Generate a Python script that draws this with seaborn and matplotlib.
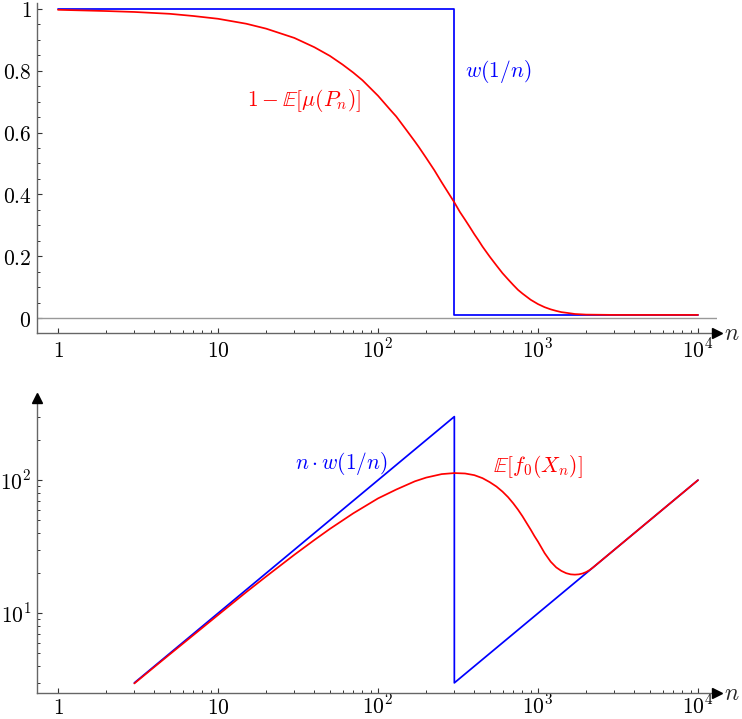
import matplotlib
matplotlib.use("Agg")
import matplotlib.pyplot as plt
import seaborn as sns
import pandas as pd
from matplotlib.ticker import FixedLocator, NullFormatter, FixedFormatter

# ---------------- data ----------------
top_red_n = [1, 2, 3, 5, 7, 10, 15, 20, 30, 40, 50, 60, 70, 80, 100, 120, 130, 150, 170,
             180, 200, 225, 250, 275, 300, 325, 350, 375, 400, 425, 450, 475, 500, 550,
             600, 650, 700, 750, 800, 900, 1000, 1100, 1200, 1300, 1400, 1500, 1700, 2000,
             3000, 10000]
top_red_v = [0.997, 0.993, 0.990, 0.984, 0.977, 0.968, 0.952, 0.936, 0.906, 0.876, 0.848,
             0.820, 0.794, 0.769, 0.719, 0.672, 0.652, 0.609, 0.571, 0.553, 0.518, 0.478,
             0.439, 0.405, 0.374, 0.343, 0.318, 0.294, 0.271, 0.251, 0.231, 0.214, 0.198,
             0.170, 0.145, 0.125, 0.107, 0.091, 0.079, 0.059, 0.045, 0.035, 0.028, 0.023,
             0.019, 0.017, 0.013, 0.011, 0.010, 0.010]

top_blue_n = [1, 300, 300, 10000]
top_blue_v = [1.0, 1.0, 0.01, 0.01]

bot_blue_n = [3, 300, 300, 10000]
bot_blue_v = [3, 300, 3, 100]

bot_red_n = [3, 4, 5, 7, 10, 15, 20, 30, 40, 50, 70, 100, 130, 170, 200, 250, 300, 350,
             400, 450, 500, 550, 600, 650, 700, 750, 800, 850, 900, 950, 1000, 1100, 1200,
             1300, 1400, 1500, 1600, 1700, 1800, 1900, 2000, 2100, 2200, 2400, 3000, 5000,
             10000]
bot_red_v = [2.97, 3.95, 4.92, 6.84, 9.70, 14.4, 18.9, 27.5, 35.5, 43.0, 56.3, 72.9, 85.0,
             98.0, 104.5, 111.0, 113.0, 112.2, 109.0, 103.5, 96.5, 89.5, 82.0, 74.5, 67.0,
             60.0, 53.5, 47.5, 42.5, 38.0, 34.5, 28.3, 24.4, 22.1, 20.8, 20.0, 19.6, 19.5,
             19.6, 19.9, 20.4, 21.1, 22.0, 24.0, 30.0, 50.0, 100.0]

x_ticks = [1, 10, 100, 1000, 10000]
x_tick_labels = ["$1$", "$10$", "$10^2$", "$10^3$", "$10^4$"]
top_y_ticks = [0, 0.2, 0.4, 0.6, 0.8, 1]
top_y_labels = ["$0$", "$0.2$", "$0.4$", "$0.6$", "$0.8$", "$1$"]
bot_y_ticks = [10, 100]
bot_y_labels = ["$10^1$", "$10^2$"]

# ---------------- style ----------------
sns.set_style("ticks")
plt.rcParams["mathtext.fontset"] = "cm"
plt.rcParams["font.family"] = ["DejaVu Serif", "DejaVu Sans"]

BLUE = "#0000ff"
RED = "#ff0000"
AXC = "#666666"
LW = 1.25
FS = 15.5

W, H = 742, 719
fig = plt.figure(figsize=(W / 100, H / 100), dpi=100)

left = 37 / W
width = 680 / W
ax1 = fig.add_axes([left, 1 - 333 / H, width, 330 / H])
ax2 = fig.add_axes([left, 1 - 693 / H, width, 295 / H])

xmin, xmax = 10 ** (-21 / 160), 10 ** (659 / 160)


def style_axis(ax, yarrow, xpad):
    for s in ("top", "right"):
        ax.spines[s].set_visible(False)
    for s in ("left", "bottom"):
        ax.spines[s].set_color(AXC)
        ax.spines[s].set_linewidth(1.0)
    ax.set_xscale("log")
    ax.set_xlim(xmin, xmax)
    ax.xaxis.set_major_locator(FixedLocator(x_ticks))
    ax.xaxis.set_major_formatter(FixedFormatter(x_tick_labels))
    ax.xaxis.set_minor_locator(FixedLocator(
        [m * 10 ** k for k in range(0, 4) for m in range(2, 10)]))
    ax.xaxis.set_minor_formatter(NullFormatter())
    ax.tick_params(axis="both", which="major", direction="in", length=3.5, width=0.8,
                   color="#333333", labelsize=FS, labelcolor="black")
    ax.tick_params(axis="both", which="minor", direction="in", length=2.0, width=0.7,
                   color="#333333")
    ax.tick_params(axis="x", which="major", pad=xpad)
    ax.tick_params(axis="y", which="major", pad=4)
    ax.set_xlabel("")
    ax.set_ylabel("")
    ax.grid(False)
    ax.plot(1, 0, ">", color="black", markersize=7, transform=ax.transAxes,
            clip_on=False, zorder=5)
    if yarrow:
        ax.plot(0, 1, "^", color="black", markersize=7, transform=ax.transAxes,
                clip_on=False, zorder=5)
    ax.text(1.022, 0, "$n$", transform=ax.transAxes, ha="center", va="center",
            fontsize=FS + 1.5)


def baseline_xlabels(ax):
    for t in ax.xaxis.get_major_ticks():
        t.label1.set_verticalalignment("baseline")


# ---------------- top panel ----------------
df_tb = pd.DataFrame({"n": top_blue_n, "v": top_blue_v})
df_tr = pd.DataFrame({"n": top_red_n, "v": top_red_v})
ax1.axhline(0, color="#999999", linewidth=1.0, zorder=1)
sns.lineplot(data=df_tb, x="n", y="v", ax=ax1, color=BLUE, linewidth=LW,
             estimator=None, sort=False, zorder=3)
sns.lineplot(data=df_tr, x="n", y="v", ax=ax1, color=RED, linewidth=LW,
             estimator=None, sort=False, zorder=4)
style_axis(ax1, yarrow=False, xpad=17.5)
ax1.set_ylim(-0.0485, 1.019)
ax1.yaxis.set_major_locator(FixedLocator(top_y_ticks))
ax1.yaxis.set_major_formatter(FixedFormatter(top_y_labels))
ax1.yaxis.set_minor_locator(FixedLocator([i * 0.05 for i in range(21)]))
ax1.yaxis.set_minor_formatter(NullFormatter())

ax1.text(350, 0.796, "$w(1/n)$", color=BLUE, fontsize=FS, ha="left", va="center")
ax1.text(34.5, 0.705, r"$1-\mathbb{E}[\mu(P_n)]$", color=RED, fontsize=FS,
         ha="center", va="center")

# ---------------- bottom panel ----------------
df_bb = pd.DataFrame({"n": bot_blue_n, "v": bot_blue_v})
df_br = pd.DataFrame({"n": bot_red_n, "v": bot_red_v})
sns.lineplot(data=df_bb, x="n", y="v", ax=ax2, color=BLUE, linewidth=LW,
             estimator=None, sort=False, zorder=3)
sns.lineplot(data=df_br, x="n", y="v", ax=ax2, color=RED, linewidth=LW,
             estimator=None, sort=False, zorder=4)
ax2.set_yscale("log")
style_axis(ax2, yarrow=True, xpad=15.0)
ax2.set_ylim(10 ** 0.401, 10 ** 2.617)
ax2.yaxis.set_major_locator(FixedLocator(bot_y_ticks))
ax2.yaxis.set_major_formatter(FixedFormatter(bot_y_labels))
ax2.yaxis.set_minor_locator(FixedLocator(
    [m * 10 ** k for k in range(0, 3) for m in range(2, 10)]))
ax2.yaxis.set_minor_formatter(NullFormatter())

ax2.text(58.7, 134, r"$n\cdot w(1/n)$", color=BLUE, fontsize=FS,
         ha="center", va="center")
ax2.text(993, 127, r"$\mathbb{E}[f_0(X_n)]$", color=RED, fontsize=FS,
         ha="center", va="center")

fig.canvas.draw()
baseline_xlabels(ax1)
baseline_xlabels(ax2)

fig.savefig("out.png", dpi=100)
